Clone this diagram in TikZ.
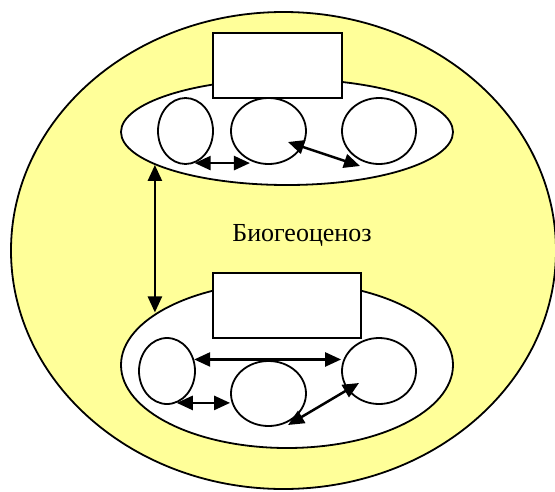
\documentclass[tikz,border=0pt]{standalone}
\usepackage{fontspec}
\setmainfont{Liberation Serif}
\usetikzlibrary{shapes.geometric, arrows.meta, positioning, calc}
\definecolor{biopale}{RGB}{255,255,153}

\begin{document}
\begin{tikzpicture}[ x=1pt, y=-1pt, biome/.style={ellipse, draw, line
      width=1.8pt, fill=biopale, inner sep=0pt, minimum width=545pt, minimum
      height=477pt}, community/.style={ellipse, draw, line width=1.8pt,
      fill=white, inner sep=0pt, minimum width=332pt},
      biotope/.style={rectangle, draw, line width=2pt, fill=white, inner
      sep=0pt, minimum height=65pt}, organism/.style={ellipse, draw, line
      width=1.8pt, fill=white, inner sep=0pt, minimum height=66pt},
      link/.style={line width=2.5pt, {Triangle[length=16pt,width=14pt]}-{Triangle[length=16pt,width=14pt]}} ]
    \useasboundingbox (0,0) rectangle (555,491);

    % Biogeocenosis
    \node[biome] (biome) at (283.5,250.5) {};
    \node[anchor=base, font=\fontsize{26pt}{30pt}\selectfont] (title) at
    (302,241) {Биогеоценоз};

    % Upper community
    \node[community, minimum height=106pt] (upper) at (287,132) {};
    \node[biotope, minimum width=129pt] (uppbox) at (277.5,65.5) {};
    \node[organism, minimum width=55pt] (u1) at (185.5,131) {};
    \node[organism, minimum width=75pt] (u2) at (268.5,131) {};
    \node[organism, minimum width=74pt] (u3) at (379,131) {};

    % Lower community
    \node[community, minimum height=166pt] (lower) at (287,365) {};
    \node[biotope, minimum width=148pt] (lowbox) at (287,305.5) {};
    \node[organism, minimum width=56pt] (l1) at (167,371) {};
    \node[organism, minimum width=75pt, minimum height=65pt] (l2) at
    (268.5,393.5) {};
    \node[organism, minimum width=74pt] (l3) at (379,371) {};

    % Links inside upper community
    \draw[link] (u1.-74) -- (u1.-74 -| u2.-122);
    \draw[link] ($(u2)+(19.5,11)$) -- ($(u3)+(-19,35)$);

    % Links inside lower community
    \draw[link] (l1.23) -- (l1.23 -| l3.west);
    \draw[link] (l1.-73) -- (l1.-73 -| l2.west);
    \draw[link] ($(l3)+(-20,12)$) -- ($(l2)+(19.5,31.5)$);

    % Link between the communities
    \draw[link] (upper.194) -- (upper.194 |- lower.158);

    \end{tikzpicture}
\end{document}
